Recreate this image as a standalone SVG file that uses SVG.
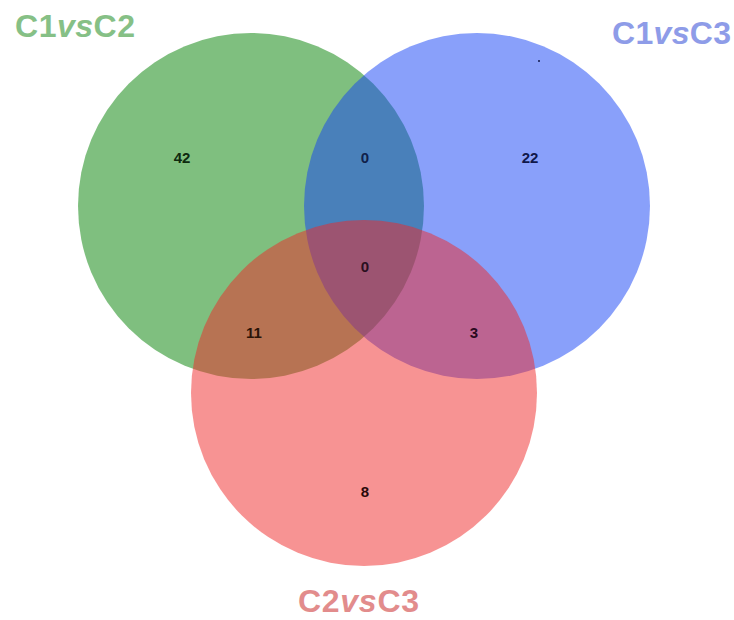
<svg xmlns="http://www.w3.org/2000/svg" width="734" height="620" viewBox="0 0 734 620">
  <style>
    .set { fill-opacity: 0.5; stroke: none; }
    .title { font-family: "Liberation Sans", Arial, sans-serif; font-size: 32px; font-weight: bold; }
    .num { font-family: "Liberation Sans", Arial, sans-serif; font-size: 15px; font-weight: bold; text-anchor: middle; }
  </style>
  <rect x="0" y="0" width="734" height="620" fill="#ffffff"/>
  <g id="set-c1vsc2">
    <circle class="set" cx="251" cy="206" r="173" fill="rgb(0,128,0)"/>
    <text class="title" x="15" y="37" fill="#86c086" textLength="120">C1<tspan font-style="italic">vs</tspan>C2</text>
  </g>
  <g id="set-c1vsc3">
    <circle class="set" cx="477" cy="206" r="173" fill="rgb(20,65,245)"/>
    <text class="title" x="612" y="44" fill="#8e9ce8" textLength="119">C1<tspan font-style="italic">vs</tspan>C3</text>
  </g>
  <g id="set-c2vsc3">
    <circle class="set" cx="364" cy="393" r="173" fill="rgb(240,40,40)"/>
    <text class="title" x="298" y="612" fill="#e28c8c" textLength="121">C2<tspan font-style="italic">vs</tspan>C3</text>
  </g>
  <g id="counts">
    <text class="num" x="182" y="163" fill="#0f2a0f">42</text>
    <text class="num" x="365" y="163" fill="#10204a">0</text>
    <text class="num" x="530" y="163" fill="#10184a">22</text>
    <text class="num" x="365" y="272" fill="#2a0f1f">0</text>
    <text class="num" x="254" y="338" fill="#2a1408">11</text>
    <text class="num" x="474" y="338" fill="#2a0a20">3</text>
    <text class="num" x="365" y="497" fill="#2a0a0a">8</text>
  </g>
  <circle cx="539" cy="61" r="1" fill="#10184a"/>
</svg>
